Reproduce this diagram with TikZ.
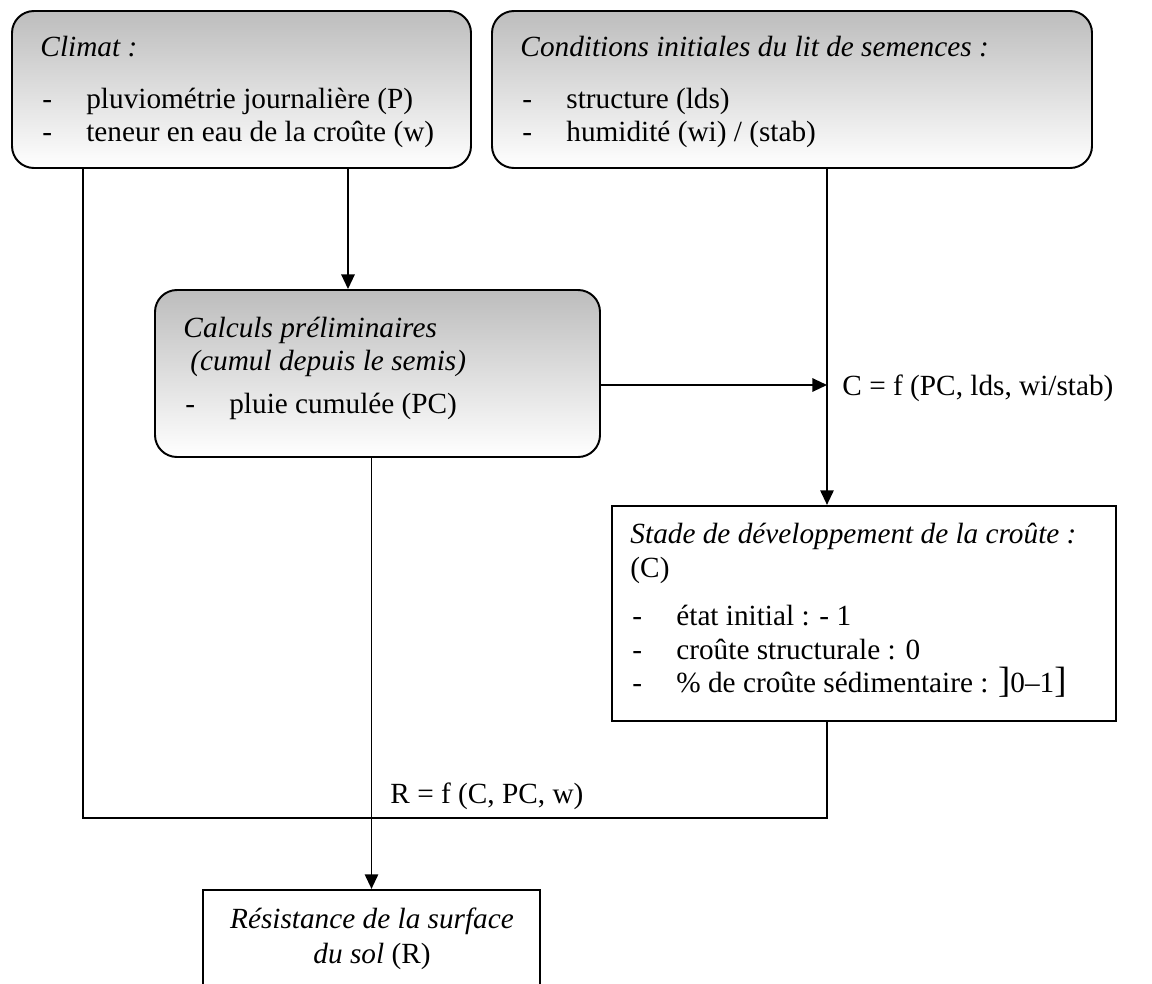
\documentclass[tikz,border=0pt]{standalone}
\usepackage{fontspec}
\setmainfont{Liberation Serif}
\usetikzlibrary{arrows.meta,positioning,fit,calc}

\newcommand{\itm}[1]{\makebox[18pt][l]{-}#1}
\newcommand{\bigbr}{{\fontsize{15}{15}\selectfont ]}}

\begin{document}
\begin{tikzpicture}[x=0.41pt,y=-0.41pt,
  roundbox/.style={draw,line width=0.8pt,rounded corners=9pt,
                   top color=black!26,bottom color=white,inner sep=0pt},
  plainbox/.style={draw,line width=0.9pt,fill=white,inner sep=0pt},
  txt/.style={anchor=base west,inner sep=0pt,font=\fontsize{12}{14}\selectfont},
  ctxt/.style={txt,anchor=base},
  line/.style={line width=0.7pt},
  arrow/.style={line,-{Triangle[length=6pt,width=5.5pt]}}
]
  \useasboundingbox (0,0) rectangle (1152,983);
  \clip (0,0) rectangle (1152,983);

  \node[roundbox,fit={(12,11) (471,168)}] (climat) {};
  \node[roundbox,fit={(492,11) (1092,168)}] (conditions) {};
  \node[roundbox,fit={(155,290) (600,457)}] (calculs) {};
  \node[plainbox,fit={(612,506) (1116,721)}] (stade) {};
  \node[plainbox,fit={(203,890) (540,1020)}] (resist) {};

  \node[txt] (climat-t) at (40,56) {\textit{Climat :}};
  \node[txt] (climat-p) at (42,108) {\itm{pluviométrie journalière (P)}};
  \node[txt] (climat-w) at (42,141) {\itm{teneur en eau de la croûte (w)}};

  \node[txt] (cond-t) at (520,56) {\textit{Conditions initiales du lit de semences :}};
  \node[txt] (cond-lds) at (522,108) {\itm{structure (lds)}};
  \node[txt] (cond-wi) at (522,141) {\itm{humidité (wi) / (stab)}};

  \node[txt] (calc-t) at (183,337) {\textit{Calculs préliminaires}};
  \node[txt] (calc-s) at (190,370) {\textit{(cumul depuis le semis)}};
  \node[txt] (calc-pc) at (185,413) {\itm{pluie cumulée (PC)}};

  \node[txt] (stade-t) at (630,543) {\textit{Stade de développement de la croûte :}};
  \node[txt] (stade-c) at (630,577) {(C)};
  \node[txt] (stade-i) at (632,625) {\itm{état initial : - 1}};
  \node[txt] (stade-s) at (632,659) {\itm{croûte structurale : 0}};
  \node[txt] (stade-p) at (632,692) {\itm{\% de croûte sédimentaire : \bigbr0–1\bigbr}};

  \node[ctxt] (resist-t) at (372,928) {\textit{Résistance de la surface}};
  \node[ctxt] (resist-s) at (372,963) {\textit{du sol} (R)};

  \node[txt] (cfun) at (842,395) {C = f (PC, lds, wi/stab)};
  \node[txt] (rfun) at (390,803) {R = f (C, PC, w)};

  \coordinate (xa) at (83,0);
  \coordinate (xb) at (348,0);
  \coordinate (cin) at (827,385);
  \coordinate (rbase) at (827,818);

  \draw[arrow] (climat.south -| xb) -- (calculs.north -| xb);
  \draw[arrow] (conditions.south -| cin) -- (stade.north -| cin);
  \draw[arrow] (calculs.east |- cin) -- (cin);
  \draw[line] (climat.south -| xa) |- (rbase) -- (stade.south -| rbase);
  \draw[arrow] (calculs.south -| resist.north) -- (resist.north);
\end{tikzpicture}
\end{document}
